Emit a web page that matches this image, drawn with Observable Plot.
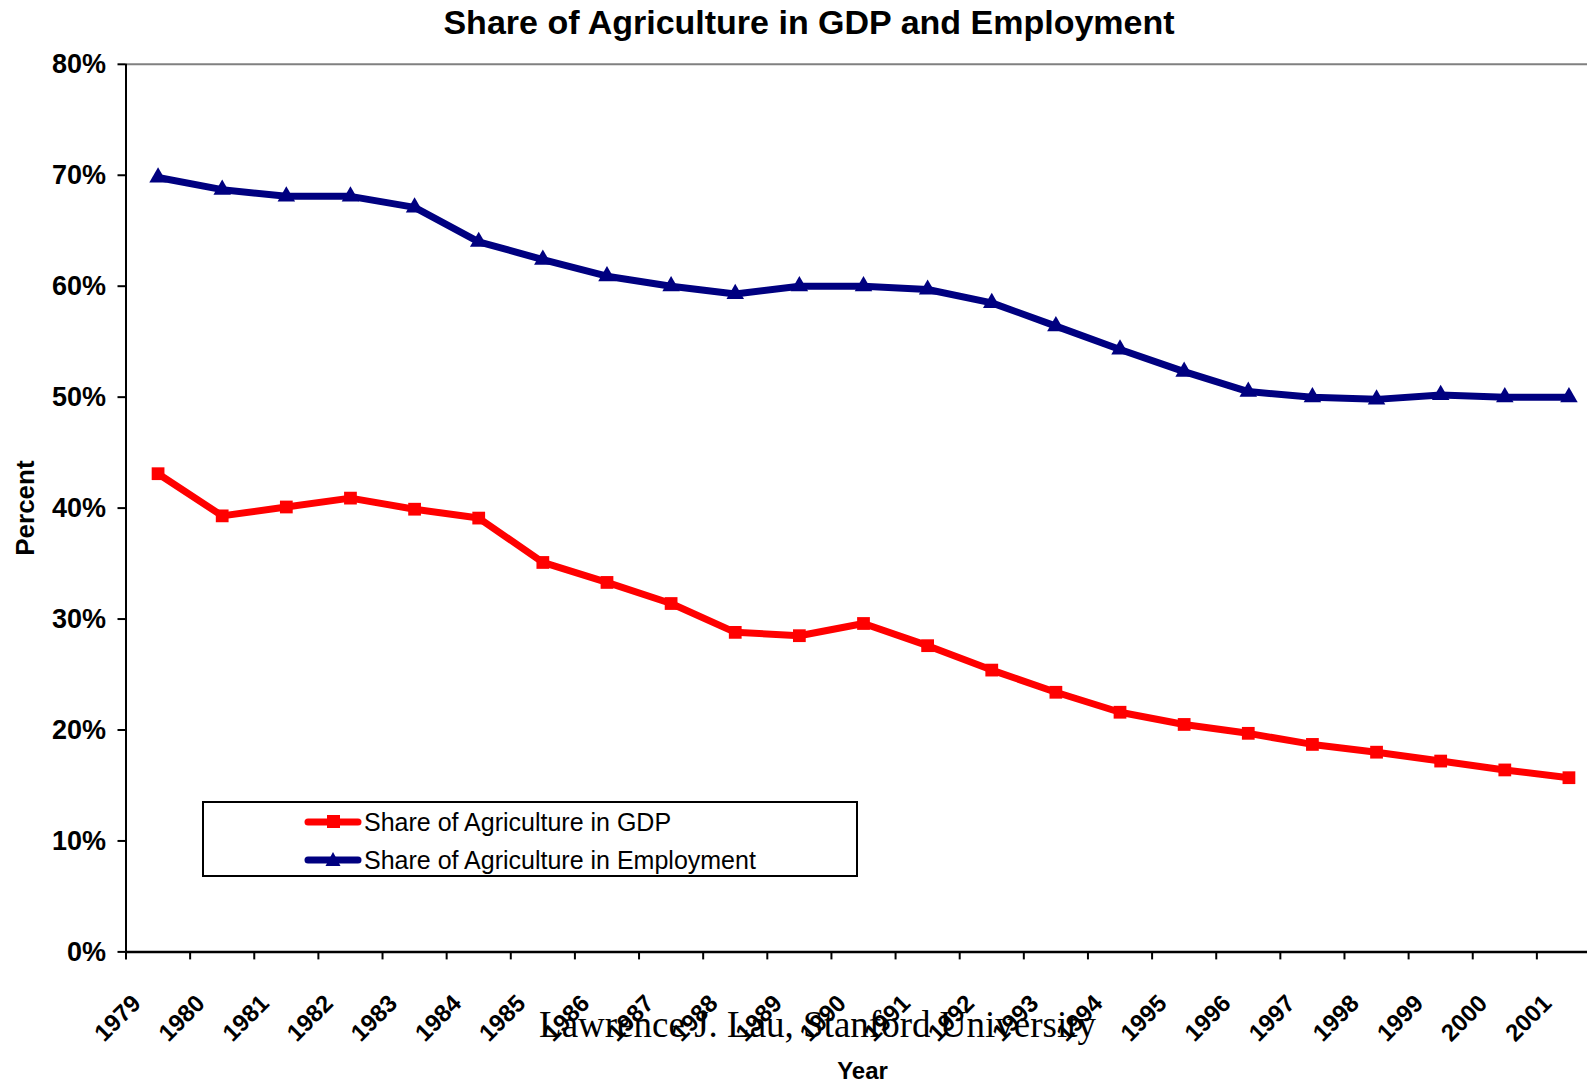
<!DOCTYPE html>
<html>
<head>
<meta charset="utf-8">
<script src="https://cdn.jsdelivr.net/npm/d3@7"></script>
<script src="https://cdn.jsdelivr.net/npm/@observablehq/plot@0.6"></script>
<style>
  html, body { margin: 0; padding: 0; background: #fff; overflow: hidden; }
  #wrap { position: relative; width: 1587px; height: 1084px; font-family: "Liberation Sans", Arial, sans-serif; }
  #title { position: absolute; left: 809px; top: 0; transform: translateX(-50%); white-space: nowrap;
           height: 46px; line-height: 44px; font-size: 34px; font-weight: bold; color: #000; }
  #chart { position: absolute; left: 0; top: 46px; }
  #chart svg { max-width: none; overflow: hidden; }
  #legend { position: absolute; left: 202px; top: 801px; width: 652px; height: 72px;
            border: 2px solid #000; background: #fff; }
  .row { position: absolute; left: 100px; height: 30px; display: flex; align-items: center;
         font-size: 25px; color: #000; white-space: nowrap; }
  .row svg { margin-right: 2px; }
</style>
</head>
<body>
<div id="wrap">
  <div id="title">Share of Agriculture in GDP and Employment</div>
  <div id="chart"></div>
  <div id="legend"></div>
</div>
<script>
const years = [1979,1980,1981,1982,1983,1984,1985,1986,1987,1988,1989,1990,1991,1992,1993,1994,1995,1996,1997,1998,1999,2000,2001];
const gdpShare = [43.1,39.3,40.1,40.9,39.9,39.1,35.1,33.3,31.4,28.8,28.5,29.6,27.6,25.4,23.4,21.6,20.5,19.7,18.7,18.0,17.2,16.4,15.7];
const employmentShare = [69.8,68.7,68.1,68.1,67.1,64.0,62.4,60.9,60.0,59.3,60.0,60.0,59.7,58.5,56.4,54.3,52.3,50.5,50.0,49.8,50.2,50.0,50.0];
const yTicks = [0,10,20,30,40,50,60,70,80];
const seriesNames = ["Share of Agriculture in GDP", "Share of Agriculture in Employment"];
const seriesColors = ["#FF0000", "#000080"];
const seriesSymbols = ["square", "triangle"];
const titleText = "Share of Agriculture in GDP and Employment";
const xTitle = "Year";
const yTitle = "Percent";
const caption = "Lawrence J. Lau, Stanford University";

const gdpData = years.map((y, i) => ({year: y, v: gdpShare[i] / 100}));
const empData = years.map((y, i) => ({year: y, v: employmentShare[i] / 100}));
const boundaries = years.map(y => y - 0.5).concat([years[years.length - 1] + 0.5]);

const W = 1587, H = 1038;
const mL = 125.5, mR = -13.5, mT = 17.8, mB = 132.6;

const chart = Plot.plot({
  width: W,
  height: H,
  marginLeft: mL,
  marginRight: mR,
  marginTop: mT,
  marginBottom: mB,
  style: {fontFamily: "Liberation Sans, Arial, sans-serif", color: "#000", background: "#fff"},
  x: {type: "linear", domain: [years[0] - 0.5, years[years.length - 1] + 0.5], range: [mL, W - mR]},
  y: {type: "linear", domain: [0, 0.8], range: [H - mB, mT]},
  marks: [
    Plot.ruleY([0.8], {stroke: "#808080", strokeWidth: 2}),
    Plot.axisY({ticks: yTicks.map(d => d / 100), tickFormat: d3.format(".0%"), tickSize: 8, tickPadding: 12,
                stroke: "#000", strokeWidth: 2, fontSize: 27, fontWeight: "bold", label: null}),
    Plot.axisX({ticks: boundaries, tickFormat: () => "", tickSize: 8, stroke: "#000", strokeWidth: 2, label: null}),
    Plot.ruleX([years[0] - 0.5], {stroke: "#000", strokeWidth: 2}),
    Plot.ruleY([0], {stroke: "#000", strokeWidth: 2.5}),
    Plot.line(gdpData, {x: "year", y: "v", stroke: seriesColors[0], strokeWidth: 7}),
    Plot.line(empData, {x: "year", y: "v", stroke: seriesColors[1], strokeWidth: 7}),
    Plot.dot(gdpData, {x: "year", y: "v", symbol: seriesSymbols[0], r: 7.2, fill: seriesColors[0], stroke: "none"}),
    Plot.dot(empData, {x: "year", y: "v", symbol: seriesSymbols[1], r: 6.5, fill: seriesColors[1], stroke: "none"}),
    Plot.text(years, {x: d => d, text: d => String(d), frameAnchor: "bottom", rotate: -45, textAnchor: "end",
                      dx: -16, dy: 53, fontSize: 24, fontWeight: "bold", fill: "#000"}),
    Plot.text([caption], {text: d => d, frameAnchor: "bottom", dx: -46, dy: 85,
                          fontFamily: "Liberation Serif, Times New Roman, serif", fontSize: 37, fill: "#000"}),
    Plot.text([xTitle], {text: d => d, frameAnchor: "bottom", dx: -1, dy: 127.5, fontSize: 24, fontWeight: "bold", fill: "#000"}),
    Plot.text([yTitle], {text: d => d, frameAnchor: "left", rotate: -90, textAnchor: "middle", dx: -100.5, dy: 0,
                         fontSize: 26, fontWeight: "bold", fill: "#000"})
  ]
});
document.getElementById("chart").appendChild(chart);

// Legend
const legend = document.getElementById("legend");
seriesNames.forEach((name, i) => {
  const row = document.createElement("div");
  row.className = "row";
  row.style.top = (i === 0 ? 4 : 42) + "px";
  const sym = i === 0
    ? `<rect x="23" y="8" width="13" height="13" fill="${seriesColors[i]}"/>`
    : `<path d="M29,7 L36.5,21 L21.5,21 Z" fill="${seriesColors[i]}"/>`;
  row.innerHTML = `<svg width="58" height="30"><line x1="4" y1="15" x2="54" y2="15" stroke="${seriesColors[i]}" stroke-width="7" stroke-linecap="round"/>${sym}</svg><span>${name}</span>`;
  legend.appendChild(row);
});
</script>
</body>
</html>
